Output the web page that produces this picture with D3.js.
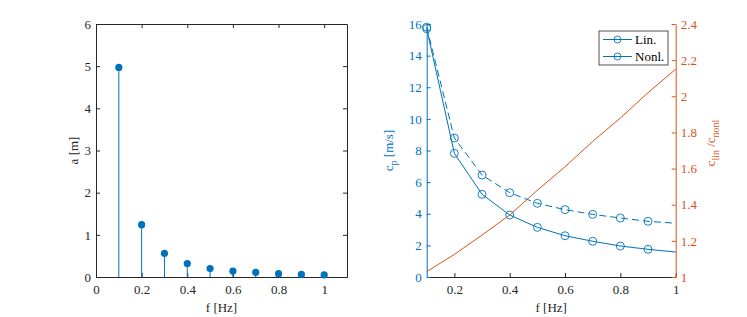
<!DOCTYPE html>
<html>
<head>
<meta charset="utf-8">
<script src="https://cdn.jsdelivr.net/npm/d3@7"></script>
<style>
  body { margin: 0; background: #fff; }
  svg text { font-family: "Times New Roman", "Liberation Serif", Times, "DejaVu Serif", serif; }
</style>
</head>
<body>
<div id="chart"></div>
<script>
// values

const freq = [0.1, 0.2, 0.3, 0.4, 0.5, 0.6, 0.7, 0.8, 0.9, 1.0];
const amp = [4.97, 1.24, 0.56, 0.32, 0.2, 0.14, 0.11, 0.08, 0.06, 0.05];

const cLin = [15.7, 7.82, 5.23, 3.92, 3.14, 2.61, 2.26, 1.96, 1.75, 1.58];
const cNonl = [15.8, 8.79, 6.45, 5.33, 4.66, 4.26, 3.96, 3.73, 3.52, 3.4];
const ratio = [1.03, 1.125, 1.232, 1.343, 1.48, 1.61, 1.75, 1.88, 2.02, 2.15];

const leftXTicks = [0, 0.2, 0.4, 0.6, 0.8, 1];
const leftYTicks = [0, 1, 2, 3, 4, 5, 6];
const rightXTicks = [0.2, 0.4, 0.6, 0.8, 1];
const cTicks = [0, 2, 4, 6, 8, 10, 12, 14, 16];
const ratioTicks = [1, 1.2, 1.4, 1.6, 1.8, 2, 2.2, 2.4];

const blue = '#0072BD';
const orange = '#D95319';
const axisGrey = '#262626';

const width = 747;
const height = 317;

const svg = d3.select('#chart')
    .append('svg')
    .attr('width', width)
    .attr('height', height)

// d3 axes put their own sans-serif font on the group, undo that
function styleAxis(g, color) {
    g.attr('font-family', null).attr('font-size', null)
    g.select('.domain').attr('stroke', color).attr('stroke-width', 1)
    g.selectAll('.tick line').attr('stroke', color)
    g.selectAll('.tick text').attr('fill', color).style('font-size', '13px')
}

const fmt = d => d3.format('')(d)

// ---------- left plot: stem of amplitudes ----------
const L = { x0: 96, x1: 347, y0: 24, y1: 277 }

const xL = d3.scaleLinear().domain([0, 1.1]).range([L.x0, L.x1])
const yL = d3.scaleLinear().domain([0, 6]).range([L.y1, L.y0])

// box top / right ticks
svg.append('g')
    .attr('transform', 'translate(0,' + L.y0 + ')')
    .call(d3.axisTop(xL).tickValues(leftXTicks).tickSize(-4).tickSizeOuter(0).tickFormat(''))
    .call(g => styleAxis(g, axisGrey))

svg.append('g')
    .attr('transform', 'translate(' + L.x1 + ',0)')
    .call(d3.axisRight(yL).tickValues(leftYTicks).tickSize(-4).tickSizeOuter(0).tickFormat(''))
    .call(g => styleAxis(g, axisGrey))

svg.append('g')
    .attr('transform', 'translate(0,' + L.y1 + ')')
    .call(d3.axisBottom(xL).tickValues(leftXTicks).tickSize(-4).tickSizeOuter(0).tickPadding(8).tickFormat(fmt))
    .call(g => styleAxis(g, axisGrey))

svg.append('g')
    .attr('transform', 'translate(' + L.x0 + ',0)')
    .call(d3.axisLeft(yL).tickValues(leftYTicks).tickSize(-4).tickSizeOuter(0).tickPadding(5).tickFormat(fmt))
    .call(g => styleAxis(g, axisGrey))

const stems = freq.map((f, i) => ({ f: f, a: amp[i] }))

svg.selectAll('line.stem')
    .data(stems)
    .enter()
    .append('line')
    .attr('class', 'stem')
    .attr('x1', d => xL(d.f))
    .attr('x2', d => xL(d.f))
    .attr('y1', yL(0))
    .attr('y2', d => yL(d.a))
    .attr('stroke', blue)
    .attr('stroke-width', 1)

svg.selectAll('circle.stem-dot')
    .data(stems)
    .enter()
    .append('circle')
    .attr('class', 'stem-dot')
    .attr('cx', d => xL(d.f))
    .attr('cy', d => yL(d.a))
    .attr('r', 3.6)
    .attr('fill', blue)

svg.append('text')
    .attr('x', (L.x0 + L.x1) / 2)
    .attr('y', 312)
    .attr('text-anchor', 'middle')
    .attr('fill', axisGrey)
    .style('font-size', '13px')
    .text('f [Hz]')

svg.append('text')
    .attr('transform', 'translate(78,' + ((L.y0 + L.y1) / 2) + ') rotate(-90)')
    .attr('text-anchor', 'middle')
    .attr('fill', axisGrey)
    .style('font-size', '13px')
    .text('a [m]')

// ---------- right plot: phase speeds and ratio ----------
const R = { x0: 426.7, x1: 675.7, y0: 24, y1: 277 }

const xR = d3.scaleLinear().domain([0.1, 1]).range([R.x0, R.x1])
const yC = d3.scaleLinear().domain([0, 16]).range([R.y1, R.y0])
const yRatio = d3.scaleLinear().domain([1, 2.4]).range([R.y1, R.y0])

svg.append('g')
    .attr('transform', 'translate(0,' + R.y1 + ')')
    .call(d3.axisBottom(xR).tickValues(rightXTicks).tickSize(-4).tickSizeOuter(0).tickPadding(8).tickFormat(fmt))
    .call(g => styleAxis(g, axisGrey))

svg.append('g')
    .attr('transform', 'translate(' + R.x0 + ',0)')
    .call(d3.axisLeft(yC).tickValues(cTicks).tickSize(-4).tickSizeOuter(0).tickPadding(5).tickFormat(fmt))
    .call(g => styleAxis(g, blue))

svg.append('g')
    .attr('transform', 'translate(' + R.x1 + ',0)')
    .call(d3.axisRight(yRatio).tickValues(ratioTicks).tickSize(-4).tickSizeOuter(0).tickPadding(5).tickFormat(fmt))
    .call(g => styleAxis(g, orange))

const linPts = freq.map((f, i) => ({ f: f, c: cLin[i] }))
const nonlPts = freq.map((f, i) => ({ f: f, c: cNonl[i] }))
const ratioPts = freq.map((f, i) => ({ f: f, r: ratio[i] }))

const cLine = d3.line().x(d => xR(d.f)).y(d => yC(d.c))
const rLine = d3.line().x(d => xR(d.f)).y(d => yRatio(d.r))

svg.append('path')
    .datum(ratioPts)
    .attr('d', rLine)
    .attr('fill', 'none')
    .attr('stroke', orange)
    .attr('stroke-width', 1)

svg.append('path')
    .datum(linPts)
    .attr('d', cLine)
    .attr('fill', 'none')
    .attr('stroke', blue)
    .attr('stroke-width', 1)

svg.append('path')
    .datum(nonlPts)
    .attr('d', cLine)
    .attr('fill', 'none')
    .attr('stroke', blue)
    .attr('stroke-width', 1)
    .attr('stroke-dasharray', '7,4')

// markers on every point but the last
const markers = linPts.concat(nonlPts).filter(d => d.f < 1)

svg.selectAll('circle.marker')
    .data(markers)
    .enter()
    .append('circle')
    .attr('class', 'marker')
    .attr('cx', d => xR(d.f))
    .attr('cy', d => yC(d.c))
    .attr('r', 4)
    .attr('fill', 'none')
    .attr('stroke', blue)
    .attr('stroke-width', 0.9)

svg.append('text')
    .attr('x', (R.x0 + R.x1) / 2)
    .attr('y', 312)
    .attr('text-anchor', 'middle')
    .attr('fill', axisGrey)
    .style('font-size', '13px')
    .text('f [Hz]')

// c_p [m/s]
const cpLabel = svg.append('text')
    .attr('transform', 'translate(393,' + ((R.y0 + R.y1) / 2) + ') rotate(-90)')
    .attr('text-anchor', 'middle')
    .attr('fill', blue)
    .style('font-size', '13px')
cpLabel.append('tspan').text('c')
cpLabel.append('tspan').attr('dy', 4).style('font-size', '10px').text('p')
cpLabel.append('tspan').attr('dy', -4).text(' [m/s]')

// c_lin / c_nonl
const ratioLabel = svg.append('text')
    .attr('transform', 'translate(715,' + 143 + ') rotate(-90)')
    .attr('text-anchor', 'middle')
    .attr('fill', orange)
    .style('font-size', '13px')
ratioLabel.append('tspan').text('c')
ratioLabel.append('tspan').attr('dy', 4).style('font-size', '10px').text('lin')
ratioLabel.append('tspan').attr('dy', -4).text(' /c')
ratioLabel.append('tspan').attr('dy', 4).style('font-size', '10px').text('nonl')

// legend
const legend = svg.append('g').attr('transform', 'translate(599,31)')

legend.append('rect')
    .attr('width', 69)
    .attr('height', 34)
    .attr('fill', '#fff')
    .attr('stroke', '#262626')
    .attr('stroke-width', 0.8)

const legendItems = ['Lin.', 'Nonl.']

legend.selectAll('g.item')
    .data(legendItems)
    .enter()
    .append('g')
    .attr('class', 'item')
    .attr('transform', (d, i) => 'translate(0,' + (8.5 + i * 17) + ')')
    .each(function (d) {
        const g = d3.select(this)
        g.append('line')
            .attr('x1', 4).attr('x2', 33)
            .attr('stroke', blue).attr('stroke-width', 1)
        g.append('circle')
            .attr('cx', 18.5).attr('r', 3.5)
            .attr('fill', 'none').attr('stroke', blue).attr('stroke-width', 0.9)
        g.append('text')
            .attr('x', 36).attr('y', 4.5)
            .attr('fill', '#000')
            .style('font-size', '13px')
            .text(d)
    })
</script>
</body>
</html>
